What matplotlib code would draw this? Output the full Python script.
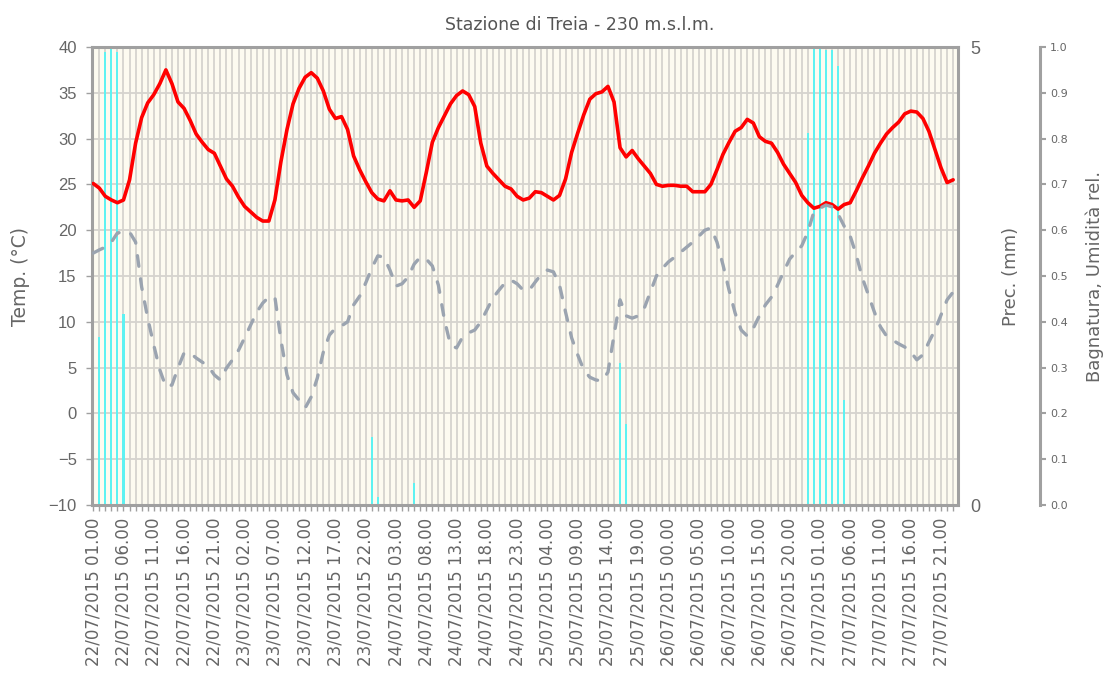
import numpy as np
import pandas as pd
import matplotlib
matplotlib.use('Agg')
import matplotlib.pyplot as plt
from matplotlib.ticker import MultipleLocator

# dati orari dal 22/07/2015 01.00
ore = np.arange(143)
etichette = pd.date_range('2015-07-22 01:00', periods=143, freq='h')[::5].strftime('%d/%m/%Y %H.%M')

temp = [25.1, 24.6, 23.7, 23.3, 23.0, 23.3, 25.5, 29.5, 32.3, 33.9,
        34.8, 36.0, 37.5, 36.0, 34.0, 33.3, 32.0, 30.5, 29.6, 28.8,
        28.4, 27.0, 25.6, 24.8, 23.6, 22.6, 22.0, 21.4, 21.0, 21.0,
        23.3, 27.5, 31.0, 33.8, 35.5, 36.7, 37.2, 36.6, 35.2, 33.2,
        32.2, 32.4, 31.0, 28.1, 26.6, 25.3, 24.1, 23.4, 23.2, 24.3,
        23.3, 23.2, 23.3, 22.5, 23.2, 26.3, 29.6, 31.2, 32.5, 33.8,
        34.7, 35.2, 34.8, 33.5, 29.5, 27.0, 26.2, 25.5, 24.8, 24.5,
        23.7, 23.3, 23.5, 24.2, 24.1, 23.7, 23.3, 23.8, 25.6, 28.5,
        30.6, 32.6, 34.3, 34.9, 35.1, 35.7, 34.0, 29.0, 28.0, 28.7,
        27.8, 27.0, 26.2, 25.0, 24.8, 24.9, 24.9, 24.8, 24.8, 24.2,
        24.2, 24.2, 25.0, 26.6, 28.3, 29.6, 30.8, 31.2, 32.1, 31.7,
        30.2, 29.7, 29.5, 28.5, 27.2, 26.2, 25.2, 23.8, 23.0, 22.4,
        22.6, 23.0, 22.8, 22.3, 22.8, 23.0, 24.3, 25.7, 27.0, 28.4,
        29.5, 30.5, 31.2, 31.8, 32.7, 33.0, 32.9, 32.2, 30.8, 28.8,
        26.8, 25.2, 25.5]

umid = [0.550, 0.557, 0.563, 0.574, 0.594, 0.596, 0.596, 0.574, 0.476, 0.408,
        0.349, 0.295, 0.258, 0.262, 0.299, 0.332, 0.332, 0.321, 0.312, 0.303,
        0.284, 0.273, 0.299, 0.317, 0.338, 0.365, 0.393, 0.421, 0.441, 0.454,
        0.454, 0.360, 0.284, 0.245, 0.229, 0.212, 0.236, 0.277, 0.334, 0.371,
        0.386, 0.391, 0.400, 0.437, 0.456, 0.485, 0.517, 0.544, 0.541, 0.513,
        0.478, 0.483, 0.498, 0.526, 0.541, 0.537, 0.522, 0.480, 0.404, 0.349,
        0.343, 0.367, 0.376, 0.382, 0.400, 0.426, 0.452, 0.469, 0.485, 0.491,
        0.483, 0.469, 0.469, 0.487, 0.504, 0.513, 0.509, 0.480, 0.421, 0.365,
        0.328, 0.295, 0.279, 0.273, 0.271, 0.290, 0.371, 0.448, 0.413, 0.408,
        0.413, 0.430, 0.465, 0.500, 0.517, 0.531, 0.541, 0.552, 0.563, 0.574,
        0.587, 0.600, 0.605, 0.574, 0.524, 0.469, 0.419, 0.382, 0.369, 0.386,
        0.413, 0.437, 0.454, 0.480, 0.509, 0.537, 0.552, 0.566, 0.596, 0.640,
        0.648, 0.655, 0.651, 0.635, 0.609, 0.587, 0.546, 0.496, 0.459, 0.421,
        0.389, 0.369, 0.360, 0.352, 0.345, 0.334, 0.317, 0.328, 0.356, 0.382,
        0.415, 0.448, 0.465]

prec_ore = [0, 1, 2, 3, 4, 5, 46, 47, 53, 87, 88, 118, 119, 120, 121, 122, 123, 124]
prec_mm = [1.47, 1.83, 4.94, 5.0, 4.94, 2.08, 0.74, 0.09, 0.24, 1.55, 0.88,
           4.06, 5.0, 5.0, 4.97, 4.97, 4.79, 1.15]

grigio = '#a0a0a0'
testo = '#666666'

fig = plt.figure(figsize=(11.07, 6.8), dpi=100)
ax = fig.add_axes([92/1107, 1 - 505/680, 866/1107, 458/680])
ax2 = ax.twinx()
ax3 = ax.twinx()

# sfondo e griglia sull'asse della pioggia (sotto a tutto)
ax2.set_zorder(1)
ax.set_zorder(2)
ax3.set_zorder(3)
ax.patch.set_visible(False)
ax2.patch.set_visible(True)
ax2.set_facecolor('#fdfbf0')
ax2.xaxis.set_visible(True)
ax2.set_axisbelow(True)

ax2.bar(prec_ore, prec_mm, width=0.35, color='#5ef2f2', zorder=2)
ax.plot(ore, temp, color='#ff0000', lw=2.6, solid_joinstyle='round', solid_capstyle='round')
ax3.plot(ore, umid, color='#9ba4b0', lw=2.4, dashes=(3.2, 3.8), dash_capstyle='round')

ax.set_xlim(-0.2, 142.8)
ax.set_ylim(-10, 40)
ax2.set_ylim(0, 5)
ax3.set_ylim(0, 1)

ax.set_xticks(ore[::5], etichette)
ax.xaxis.set_minor_locator(MultipleLocator(1))
ax.tick_params(axis='x', which='both', direction='out', length=4, width=1, color=grigio,
               labelcolor=testo, labelsize=12, pad=5, labelrotation=90)
for t in ax.get_xticklabels():
    t.set_fontfamily('DejaVu Sans')
ax2.tick_params(axis='x', which='both', length=0, labelbottom=False)

ax2.yaxis.set_minor_locator(MultipleLocator(0.5))
ax2.grid(True, which='both', color='#d6d4ce', lw=1.3)

ax.set_yticks(np.arange(-10, 41, 5))
ax.tick_params(axis='y', direction='out', length=4, width=1, color=grigio,
               labelcolor=testo, labelsize=12, pad=7)
for t in ax.get_yticklabels():
    t.set_fontfamily('Liberation Sans')

ax2.set_yticks([0, 5])
ax2.tick_params(axis='y', which='both', length=0, labelcolor=testo, labelsize=13, pad=9)
for t in ax2.get_yticklabels():
    t.set_fontfamily('Liberation Sans')

ax3.set_yticks(np.arange(0, 1.01, 0.1))
ax3.set_yticklabels(['%.1f' % v for v in np.arange(0, 1.01, 0.1)])
ax3.tick_params(axis='y', direction='out', length=4, width=1.5, color=grigio,
                labelcolor=testo, labelsize=8, pad=3)

for s in ax.spines.values():
    s.set_visible(False)
for nome, s in ax3.spines.items():
    s.set_visible(nome == 'right')
ax3.spines['right'].set_position(('axes', 1.095))
ax3.spines['right'].set_color(grigio)
ax3.spines['right'].set_linewidth(2.2)
for s in ax2.spines.values():
    s.set_color(grigio)
    s.set_linewidth(2.2)

ax.set_ylabel('Temp. (°C)', fontsize=13.5, color=testo)
ax.yaxis.set_label_coords(-0.072, 0.5)
ax2.set_ylabel('Prec. (mm)', fontsize=13, color=testo)
ax2.yaxis.set_label_coords(1.051, 0.5)
ax3.set_ylabel('Bagnatura, Umidità rel.', fontsize=13, color=testo)
ax3.yaxis.set_label_coords(1.147, 0.5)

fig.text(580/1107, 1 - 25/680, 'Stazione di Treia - 230 m.s.l.m.', ha='center', va='center',
         fontsize=12.5, color='#555555')

fig.savefig('out.png', dpi=100)
